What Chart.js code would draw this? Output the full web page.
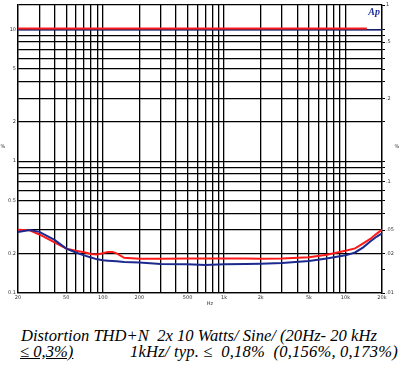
<!DOCTYPE html>
<html>
<head>
<meta charset="utf-8">
<script src="https://cdn.jsdelivr.net/npm/chart.js@4/dist/chart.umd.min.js"></script>
<style>
  html, body { margin: 0; padding: 0; background: #fff; }
  #wrap { position: relative; width: 402px; height: 383px; overflow: hidden; }
  #box { position: absolute; left: 0; top: 0; width: 402px; height: 312px; }
  .cap { position: absolute; font-family: "Liberation Serif", "DejaVu Serif", serif; font-style: italic; font-size: 16.6px; line-height: 17px; color: #000; white-space: pre; }
</style>
</head>
<body>
<div id="wrap">
  <div id="box"><canvas id="c" width="402" height="312"></canvas></div>
  <div class="cap" id="l1" style="left:21px; top:327px;">Distortion THD+N  2x 10 Watts/ Sine/ (20Hz- 20 kHz</div>
  <div class="cap" id="l2a" style="left:20px; top:343px; text-decoration: underline;">≤ 0,3%)</div>
  <div class="cap" id="l2b" style="left:130px; top:343px; letter-spacing:0.17px;">1kHz/ typ. ≤  0,18%  (0,156%, 0,173%)</div>
</div>
<script>
// ---- data ----
const freqs = [20,25,30,40,50,60,70,80,90,100,110,120,130,150,200,300,500,700,1000,1500,2000,3000,5000,7000,10000,12000,14000,16000,18000,20000];
const thdRed  = [0.302,0.299,0.278,0.242,0.217,0.209,0.204,0.198,0.196,0.200,0.205,0.205,0.200,0.185,0.182,0.182,0.183,0.183,0.183,0.183,0.182,0.183,0.187,0.195,0.209,0.218,0.238,0.257,0.281,0.302];
const thdBlue = [0.290,0.300,0.291,0.253,0.217,0.203,0.193,0.186,0.180,0.177,0.176,0.175,0.174,0.172,0.170,0.166,0.165,0.163,0.165,0.166,0.167,0.169,0.175,0.183,0.193,0.203,0.222,0.246,0.267,0.283];
const levelRedFreqs = [20, 15000];
const levelRed = [10.15, 10.15];
const levelBlueFreqs = [20, 20000];
const levelBlue = [9.9, 9.9];

const xGrid = [20,30,40,50,60,70,80,90,100,200,300,400,500,600,700,800,900,1000,2000,3000,4000,5000,6000,7000,8000,9000,10000,20000];
const xLabels = {20:"20",50:"50",100:"100",200:"200",500:"500",1000:"1k",2000:"2k",5000:"5k",10000:"10k",20000:"20k"};
const yMin = 0.1, yMax = 15.3;
const yGrid = [0.1,0.2,0.3,0.4,0.5,0.6,0.7,0.8,0.9,1,2,3,4,5,6,7,8,9,10,15.3];
const yLabels = {0.1:"0.1",0.2:"0.2",0.5:"0.5",1:"1",2:"2",5:"5",10:"10"};
const y2Labels = {15.3:"1",8:".5",3:".2",0.7:".1",0.3:".05",0.2:".02",0.1:".01"};

const pts = (xs, ys) => xs.map((f, i) => ({x: f, y: ys[i]}));

const overlay = {
  id: 'overlay',
  afterDraw(chart) {
    const ctx = chart.ctx, a = chart.chartArea;
    ctx.save();
    ctx.fillStyle = '#1f2f9a';
    ctx.font = 'italic bold 10px "Liberation Serif", serif';
    ctx.textAlign = 'right';
    ctx.textBaseline = 'top';
    ctx.fillText('Ap', a.right - 2, a.top + 2);
    ctx.fillStyle = '#333';
    ctx.font = '5px "DejaVu Sans", sans-serif';
    ctx.textAlign = 'center';
    ctx.textBaseline = 'middle';
    ctx.fillText('Hz', (a.left + a.right) / 2 + 10, a.bottom + 11);
    ctx.fillText('%', 3, 147);
    ctx.fillText('%', 397, 147);
    ctx.restore();
  }
};

new Chart(document.getElementById('c'), {
  type: 'line',
  data: {
    datasets: [
      { data: pts(freqs, thdBlue), borderColor: '#1c2a8f', borderWidth: 2, pointRadius: 0, tension: 0, yAxisID: 'y' },
      { data: pts(freqs, thdRed), borderColor: '#ff1a1a', borderWidth: 2, pointRadius: 0, tension: 0, yAxisID: 'y' },
      { data: pts(levelRedFreqs, levelRed), borderColor: '#ff1a1a', borderWidth: 1.8, pointRadius: 0, yAxisID: 'y' },
      { data: pts(levelBlueFreqs, levelBlue), borderColor: '#1c2a8f', borderWidth: 1.4, pointRadius: 0, yAxisID: 'y' }
    ]
  },
  options: {
    responsive: false,
    animation: false,
    events: [],
    layout: { padding: { top: 4, left: 0, right: 0, bottom: 0 } },
    plugins: { legend: { display: false }, tooltip: { enabled: false } },
    scales: {
      x: {
        type: 'logarithmic', min: 20, max: 20000,
        afterBuildTicks: s => { s.ticks = xGrid.map(v => ({ value: v })); },
        afterFit: s => { s.height = 19; },
        grid: { color: '#000', lineWidth: 1.3, drawTicks: false },
        border: { color: '#000', width: 1.3 },
        ticks: { autoSkip: false, maxRotation: 0, padding: 2, color: '#333', font: { size: 5, family: 'DejaVu Sans' },
                 callback: v => xLabels[v] || '' }
      },
      y: {
        type: 'logarithmic', min: yMin, max: yMax, position: 'left',
        afterBuildTicks: s => { s.ticks = yGrid.map(v => ({ value: v })); },
        afterFit: s => { s.width = 18; },
        grid: { color: '#000', lineWidth: 1.3, drawTicks: false },
        border: { color: '#000', width: 1.3 },
        ticks: { autoSkip: false, padding: 2, color: '#333', font: { size: 5, family: 'DejaVu Sans' },
                 callback: v => yLabels[v] || '' }
      },
      y2: {
        type: 'logarithmic', min: yMin, max: yMax, position: 'right',
        afterBuildTicks: s => { s.ticks = yGrid.concat([0.15]).map(v => ({ value: v })); },
        afterFit: s => { s.width = 20; },
        grid: { color: '#000', lineWidth: 1, drawOnChartArea: false, drawTicks: true, tickLength: 3 },
        border: { color: '#000', width: 1.3 },
        ticks: { autoSkip: false, padding: 1, color: '#333', font: { size: 5, family: 'DejaVu Sans' },
                 callback: v => y2Labels[v] || '' }
      }
    }
  },
  plugins: [overlay]
});
</script>
</body>
</html>
